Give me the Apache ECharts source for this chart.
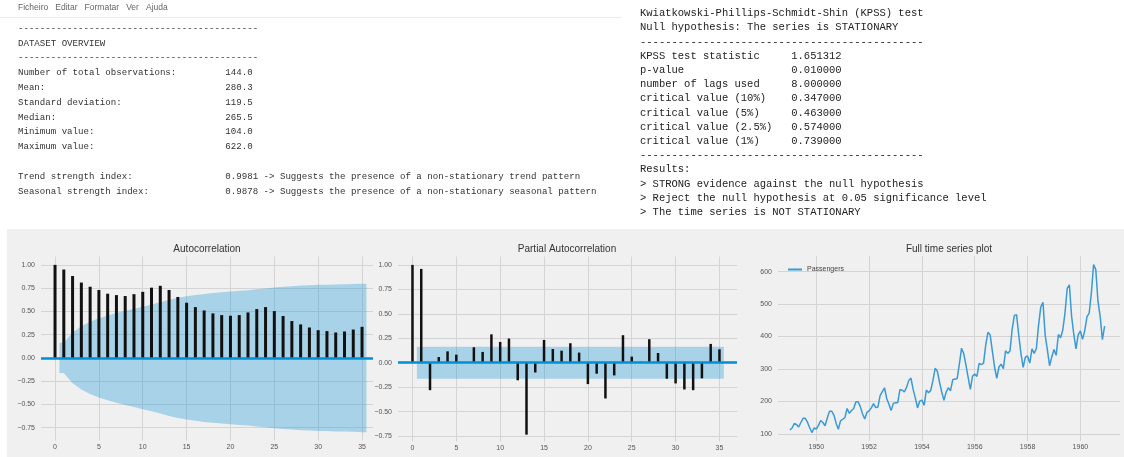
<!DOCTYPE html>
<html>
<head>
<meta charset="utf-8">
<title>AirPassengers - stationarity report</title>
<script src="https://cdn.jsdelivr.net/npm/echarts@6/dist/echarts.min.js"></script>
<style>
  html, body { margin: 0; padding: 0; background: #fff; }
  #wrap { position: relative; width: 1124px; height: 457px; overflow: hidden; }
  .panel-bg { position: absolute; left: 7px; top: 229px; width: 1117px; height: 228px; background: #f0f0f0; }
  .menu-line { position: absolute; left: 0; top: 17px; width: 622px; height: 1px; background: #ececec; }
  #main { position: absolute; left: 0; top: 0; width: 1124px; height: 457px; }
</style>
</head>
<body>
<div id="wrap">
  <div class="menu-line"></div>
  <div class="panel-bg"></div>
  <div id="main"></div>
</div>
<script>
// report text (notepad screenshot)
const menuText = 'Ficheiro   Editar   Formatar   Ver   Ajuda';
const overviewLabels = ['Number of total observations:', 'Mean:', 'Standard deviation:', 'Median:', 'Minimum value:', 'Maximum value:'];
const overviewValues = ['144.0', '280.3', '119.5', '265.5', '104.0', '622.0'];
const strengthLabels = ['Trend strength index:', 'Seasonal strength index:'];
const strengthValues = [
  '0.9981 -> Suggests the presence of a non-stationary trend pattern',
  '0.9878 -> Suggests the presence of a non-stationary seasonal pattern'
];
const kpssHeader = ['Kwiatkowski-Phillips-Schmidt-Shin (KPSS) test', 'Null hypothesis: The series is STATIONARY'];
const kpssLabels = ['KPSS test statistic', 'p-value', 'number of lags used', 'critical value (10%)',
  'critical value (5%)', 'critical value (2.5%)', 'critical value (1%)'];
const kpssValues = ['1.651312', '0.010000', '8.000000', '0.347000', '0.463000', '0.574000', '0.739000'];
const kpssResults = ['Results:', '> STRONG evidence against the null hypothesis',
  '> Reject the null hypothesis at 0.05 significance level', '> The time series is NOT STATIONARY'];

// correlograms
const lags = [0, 1, 2, 3, 4, 5, 6, 7, 8, 9, 10, 11, 12, 13, 14, 15, 16, 17,
  18, 19, 20, 21, 22, 23, 24, 25, 26, 27, 28, 29, 30, 31, 32, 33, 34, 35];
const lagTicks = [0, 5, 10, 15, 20, 25, 30, 35];
const corrTicks = [-0.75, -0.5, -0.25, 0, 0.25, 0.5, 0.75, 1];
const acfValues = [1.0, 0.95, 0.88, 0.81, 0.765, 0.73, 0.69, 0.675, 0.665, 0.685, 0.71, 0.755,
  0.775, 0.73, 0.655, 0.593, 0.546, 0.51, 0.478, 0.46, 0.453, 0.46, 0.489, 0.525,
  0.546, 0.503, 0.45, 0.396, 0.36, 0.327, 0.298, 0.288, 0.273, 0.284, 0.305, 0.334];
const acfBandLags = [0.5, 1, 2, 3, 4, 5, 6, 7, 8, 9, 10, 11, 12, 13, 14, 15, 16, 17, 18,
  19, 20, 21, 22, 23, 24, 25, 26, 27, 28, 29, 30, 31, 32, 33, 34, 35, 35.5];
const acfBand = [0.163, 0.163, 0.273, 0.34, 0.388, 0.425, 0.456, 0.482, 0.506, 0.528, 0.551, 0.574,
  0.599, 0.624, 0.646, 0.663, 0.676, 0.688, 0.697, 0.706, 0.713, 0.721, 0.728, 0.737,
  0.746, 0.756, 0.765, 0.771, 0.777, 0.781, 0.785, 0.787, 0.79, 0.792, 0.795, 0.798, 0.798];
const pacfValues = [1.0, 0.959, -0.281, 0.058, 0.116, 0.082, 0.007, 0.158, 0.11, 0.29, 0.212, 0.247,
  -0.18, -0.736, -0.1, 0.233, 0.14, 0.123, 0.199, 0.103, -0.219, -0.113, -0.366, -0.13,
  0.281, 0.062, 0.01, 0.24, 0.099, -0.164, -0.212, -0.274, -0.281, -0.16, 0.192, 0.137];
const pacfBandLags = [0.5, 35.5];
const pacfBand = [0.163, 0.163];

// monthly airline passengers 1949-1960
const startYear = 1949;
const passengers = [
  112, 118, 132, 129, 121, 135, 148, 148, 136, 119, 104, 118,
  115, 126, 141, 135, 125, 149, 170, 170, 158, 133, 114, 140,
  145, 150, 178, 163, 172, 178, 199, 199, 184, 162, 146, 166,
  171, 180, 193, 181, 183, 218, 230, 242, 209, 191, 172, 194,
  196, 196, 236, 235, 229, 243, 264, 272, 237, 211, 180, 201,
  204, 188, 235, 227, 234, 264, 302, 293, 259, 229, 203, 229,
  242, 233, 267, 269, 270, 315, 364, 347, 312, 274, 237, 278,
  284, 277, 317, 313, 318, 374, 413, 405, 355, 306, 271, 306,
  315, 301, 356, 348, 355, 422, 465, 467, 404, 347, 305, 336,
  340, 318, 362, 348, 363, 435, 491, 505, 404, 359, 310, 337,
  360, 342, 406, 396, 420, 472, 548, 559, 463, 407, 362, 405,
  417, 391, 419, 461, 472, 535, 622, 606, 508, 461, 390, 432
];
const yearTicks = [1950, 1952, 1954, 1956, 1958, 1960];
const passengerTicks = [100, 200, 300, 400, 500, 600];

const BLUE = '#008fd5';
const BAND = 'rgba(0,143,213,0.3)';
const GRID_LINE = '#d4d4d4';
const LABEL = '#555';

function textEl(str, x, y, size, color, family, align) {
  return {
    type: 'text', x: x, y: y, silent: true,
    style: {
      text: str, fill: color, fontSize: size, fontFamily: family,
      align: align || 'left', verticalAlign: 'middle'
    }
  };
}

function buildReportText() {
  const els = [];
  const dash = '-'.repeat(44);
  els.push(textEl(menuText, 18, 8, 8.5, '#666', 'Liberation Sans'));

  // left block: dataset overview
  const leftX = 18, leftH = 14.8, leftTop = 28.4, col = 38;
  const leftLines = [dash, 'DATASET OVERVIEW', dash];
  overviewLabels.forEach((l, i) => leftLines.push(l.padEnd(col) + overviewValues[i]));
  leftLines.push('');
  strengthLabels.forEach((l, i) => leftLines.push(l.padEnd(col) + strengthValues[i]));
  leftLines.forEach((s, i) => {
    if (s) els.push(textEl(s, leftX, leftTop + i * leftH, 9.1, '#333', 'Liberation Mono'));
  });

  // right block: KPSS test
  const rightX = 640, rightH = 14.2, rightTop = 13.4, kcol = 24;
  const rdash = '-'.repeat(45);
  const rightLines = kpssHeader.concat([rdash]);
  kpssLabels.forEach((l, i) => rightLines.push(l.padEnd(kcol) + kpssValues[i]));
  rightLines.push(rdash);
  kpssResults.forEach(r => rightLines.push(r));
  rightLines.forEach((s, i) => {
    els.push(textEl(s, rightX, rightTop + i * rightH, 10.5, '#222', 'Liberation Mono'));
  });
  return els;
}

function corrLabel(v) {
  return (v < 0 ? '\u2212' : '') + Math.abs(v).toFixed(2);
}

function plainLabel(v) {
  return String(v);
}

function plainAxis(gridIndex, min, max, ticks, formatter, margin) {
  return {
    type: 'value', gridIndex: gridIndex, min: min, max: max, scale: true,
    axisLine: { show: false },
    axisTick: { show: false, customValues: ticks },
    axisLabel: {
      customValues: ticks, fontSize: 7, color: LABEL, margin: margin,
      fontFamily: 'Liberation Sans', formatter: formatter || plainLabel
    },
    splitLine: { show: true, lineStyle: { color: GRID_LINE, width: 1 } }
  };
}

function stems(idx, values, width) {
  return {
    type: 'bar', xAxisIndex: idx, yAxisIndex: idx, barWidth: width, z: 3,
    data: lags.map((l, i) => [l, values[i]]),
    itemStyle: { color: '#111' },
    markLine: {
      silent: true, symbol: 'none', label: { show: false },
      lineStyle: { color: BLUE, width: 2.5, type: 'solid' },
      data: [{ yAxis: 0 }]
    }
  };
}

function band(idx, xs, values, sign) {
  return {
    type: 'line', xAxisIndex: idx, yAxisIndex: idx, symbol: 'none', z: 2,
    data: xs.map((x, i) => [x, sign * values[i]]),
    lineStyle: { width: 0 },
    areaStyle: { color: BAND, origin: 'auto', opacity: 1 }
  };
}

const chart = echarts.init(document.getElementById('main'));

const titleEls = [
  textEl('Autocorrelation', 207, 249, 10, '#333', 'Liberation Sans', 'center'),
  textEl('Partial Autocorrelation', 567, 249, 10, '#333', 'Liberation Sans', 'center'),
  textEl('Full time series plot', 949, 249, 10, '#333', 'Liberation Sans', 'center')
];

const option = {
  animation: false,
  backgroundColor: 'transparent',
  graphic: { elements: buildReportText().concat(titleEls) },
  legend: {
    data: ['Passengers'], left: 782, top: 261, itemWidth: 14, itemHeight: 2, itemGap: 4,
    textStyle: { fontSize: 7, color: '#444', fontFamily: 'Liberation Sans' }
  },
  grid: [
    { left: 41, top: 256.5, width: 332, height: 184 },
    { left: 398, top: 256.5, width: 339, height: 185 },
    { left: 778, top: 256, width: 342, height: 185 }
  ],
  xAxis: [
    plainAxis(0, -1.6, 36.25, lagTicks, null, 3),
    plainAxis(1, -1.65, 37, lagTicks, null, 3),
    plainAxis(2, 1948.55, 1961.5, yearTicks, null, 3)
  ],
  yAxis: [
    plainAxis(0, -0.888, 1.09, corrTicks, corrLabel, 6),
    plainAxis(1, -0.806, 1.086, corrTicks, corrLabel, 6),
    plainAxis(2, 78, 648, passengerTicks, null, 6)
  ],
  series: [
    band(0, acfBandLags, acfBand, 1),
    band(0, acfBandLags, acfBand, -1),
    stems(0, acfValues, 3),
    band(1, pacfBandLags, pacfBand, 1),
    band(1, pacfBandLags, pacfBand, -1),
    stems(1, pacfValues, 2.5),
    {
      name: 'Passengers', type: 'line', xAxisIndex: 2, yAxisIndex: 2, symbol: 'none',
      data: passengers.map((v, i) => [startYear + i / 12, v]),
      lineStyle: { color: '#3a9ad6', width: 1.5 },
      itemStyle: { color: '#3a9ad6' }
    }
  ]
};

chart.setOption(option);
</script>
</body>
</html>
